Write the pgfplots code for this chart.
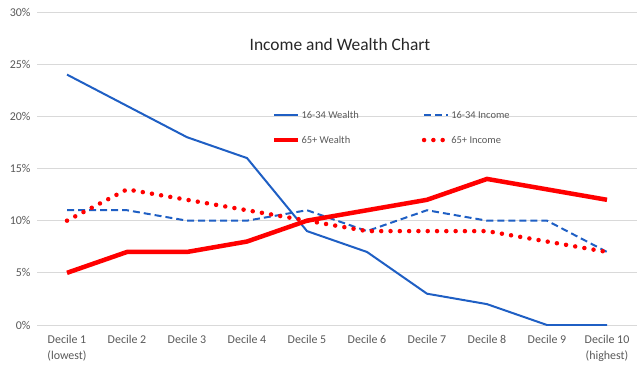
\documentclass[border=0pt]{standalone}
\usepackage{pgfplots}
\pgfplotsset{compat=1.18}
\usepackage{fontspec}
\setmainfont{Carlito}
\definecolor{wblue}{HTML}{1F5FC4}
\definecolor{wred}{HTML}{FF0000}
\definecolor{gridc}{HTML}{D9D9D9}
\definecolor{tickc}{HTML}{595959}
\begin{document}
\begin{tikzpicture}
\useasboundingbox (-37bp,-53bp) rectangle (603bp,325bp);
\begin{axis}[
  at={(0,0)}, anchor=south west,
  scale only axis,
  width=600bp, height=313bp,
  xmin=0.5, xmax=10.5,
  ymin=0, ymax=30,
  xtick={1,...,10},
  xticklabels={{Decile 1\\(lowest)},Decile 2,Decile 3,Decile 4,Decile 5,Decile 6,Decile 7,Decile 8,Decile 9,{Decile 10\\(highest)}},
  xticklabel style={align=center, font=\fontsize{12}{15.5}\selectfont, text=tickc, anchor=north},
  ytick={0,5,...,30},
  yticklabel={\pgfmathprintnumber{\tick}\%},
  yticklabel style={font=\fontsize{12}{14}\selectfont, text=tickc},
  /pgf/number format/assume math mode=true,
  ymajorgrids,
  grid style={gridc, line width=0.8bp},
  axis x line*=bottom,
  axis y line*=left,
  y axis line style={draw=none},
  x axis line style={gridc, line width=0.8bp, -},
  major tick length=0pt,
  xticklabel shift=7bp,
  yticklabel shift=3bp,
  legend columns=2,
  legend style={draw=none, fill=none, at={(0.3917,0.69)}, anchor=north west,
    inner sep=0pt, outer sep=0pt,
    font=\fontsize{10.5}{12}\selectfont, text=tickc,
    nodes={inner sep=1bp, text height=8bp, text depth=2bp},
    /tikz/every even column/.append style={column sep=62bp},
    row sep=13bp},
  legend cell align=left,
  legend image code/.code={\draw[#1] (0bp,0bp) -- (24bp,0bp);},
]
\addplot[wblue, line width=2bp] coordinates {(1,24)(2,21)(3,18)(4,16)(5,9)(6,7)(7,3)(8,2)(9,0)(10,0)};
\addlegendentry{16-34 Wealth}
\addplot[wblue, line width=2bp, dash pattern=on 7bp off 4bp] coordinates {(1,11)(2,11)(3,10)(4,10)(5,11)(6,9)(7,11)(8,10)(9,10)(10,7)};
\addlegendentry{16-34 Income}
\addplot[wred, line width=4.5bp] coordinates {(1,5)(2,7)(3,7)(4,8)(5,10)(6,11)(7,12)(8,14)(9,13)(10,12)};
\addlegendentry{65+ Wealth}
\addplot[wred, line width=4.5bp, line cap=round, dash pattern=on 0bp off 9.3bp] coordinates {(1,10)(2,13)(3,12)(4,11)(5,10)(6,9)(7,9)(8,9)(9,8)(10,7)};
\addlegendentry{65+ Income}
\node[font=\fontsize{17.5}{20}\selectfont, text=black!85] at (rel axis cs:0.505,0.8946) {Income and Wealth Chart};
\end{axis}
\end{tikzpicture}
\end{document}
